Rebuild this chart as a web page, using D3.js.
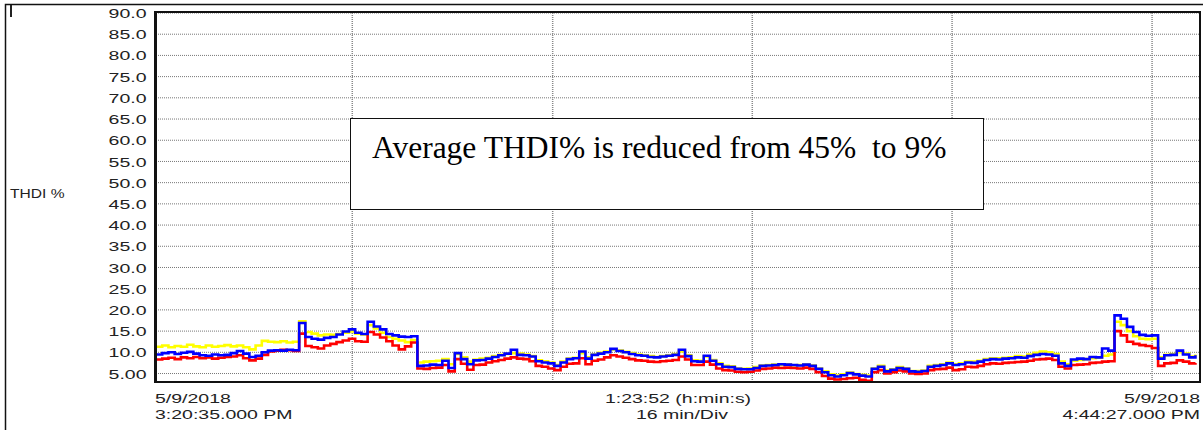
<!DOCTYPE html>
<html>
<head>
<meta charset="utf-8">
<script src="https://cdn.jsdelivr.net/npm/d3@7"></script>
<style>
  body { margin: 0; background: #fff; }
  svg { display: block; }
  text { font-family: "Liberation Sans", Arial, sans-serif; fill: #222; }
  text.note { font-family: "Liberation Serif", "Times New Roman", serif; fill: #000; }
</style>
</head>
<body>
<svg id="chart" width="1203" height="430"></svg>
<script>
// time span of the recording, one sample every 30 s
const startTime = "2018-05-09 15:20:35";
const endTime = "2018-05-09 16:44:27";
const sampleSeconds = 30;

// vertical divisions (16 min/Div)
const divTimes = ["2018-05-09 15:36:21", "2018-05-09 15:52:27", "2018-05-09 16:08:29",
                  "2018-05-09 16:24:32", "2018-05-09 16:40:36"];

const yTicks = [5, 10, 15, 20, 25, 30, 35, 40, 45, 50, 55, 60, 65, 70, 75, 80, 85, 90];
const yTickLabels = ["5.00", "10.0", "15.0", "20.0", "25.0", "30.0", "35.0", "40.0", "45.0",
                     "50.0", "55.0", "60.0", "65.0", "70.0", "75.0", "80.0", "85.0", "90.0"];

const yellowThdi = [
  11.3, 11.6, 11.2, 11.5, 11.3, 11.8, 11.4, 11.2, 11.6, 11.3, 11.5, 11.7, 11.4, 11.6, 11.2, 10.7,
  11.6, 12.7, 12.5, 12.4, 12.6, 12.3, 12.5, 17.3, 14.8, 14.4, 14.0, 14.2, 14.1, 14.3, 14.6, 14.9,
  14.4, 14.2, 16.4, 15.6, 14.6, 13.6, 13.2, 12.8, 12.4, 12.9, 7.6, 7.8, 7.9, 8.0, 8.4, 7.2,
  9.6, 8.8, 7.8, 8.3, 8.5, 8.7, 9.1, 9.4, 9.6, 9.8, 9.7, 9.5, 9.1, 8.1, 7.9, 7.6,
  7.0, 7.8, 8.5, 8.7, 9.8, 8.8, 9.5, 9.9, 10.2, 10.7, 10.4, 10.1, 9.8, 9.5, 9.3, 9.1,
  8.9, 9.1, 9.3, 9.6, 10.2, 9.3, 8.1, 8.0, 9.0, 8.2, 7.4, 6.8, 6.7, 6.2, 6.1, 6.2,
  6.5, 6.9, 7.0, 7.1, 7.0, 7.2, 6.9, 7.0, 7.1, 6.9, 6.2, 5.5, 4.8, 4.5, 4.8, 5.2,
  4.9, 4.7, 4.5, 6.2, 6.8, 5.7, 6.0, 6.5, 6.2, 5.6, 5.6, 5.7, 6.8, 7.0, 7.2, 7.6,
  7.2, 7.4, 7.8, 7.8, 8.0, 8.4, 8.6, 8.6, 8.7, 8.8, 9.1, 9.0, 9.5, 9.9, 10.2, 10.0,
  9.6, 7.8, 7.2, 8.0, 8.2, 8.4, 8.6, 8.7, 9.2, 9.5, 17.2, 16.4, 15.0, 13.8, 13.2, 13.1,
  13.2, 8.8, 9.4, 9.6, 10.0, 9.7, 9.0, 9.5
];

const redThdi = [
  8.3, 8.5, 8.7, 8.4, 8.8, 8.6, 8.9, 8.6, 8.8, 8.5, 8.7, 8.9, 9.0, 9.3, 8.6, 8.1,
  8.5, 9.4, 10.2, 10.4, 10.6, 10.5, 10.3, 14.4, 11.5, 11.2, 10.9, 11.6, 12.0, 12.4, 12.8, 13.2,
  12.6, 12.5, 14.8, 14.2, 13.5, 12.6, 11.6, 10.7, 11.4, 12.3, 6.2, 6.1, 6.3, 6.4, 7.0, 5.5,
  8.4, 7.3, 5.9, 7.0, 7.1, 7.6, 7.9, 8.2, 8.5, 8.8, 8.5, 8.4, 7.9, 6.8, 6.6, 6.2,
  5.8, 6.6, 7.3, 7.4, 8.6, 7.2, 8.0, 8.3, 8.8, 9.3, 9.0, 8.7, 8.4, 8.1, 8.0, 7.8,
  7.7, 7.9, 8.0, 8.2, 9.0, 8.3, 7.0, 7.0, 7.8, 7.1, 6.2, 5.8, 5.7, 5.4, 5.3, 5.4,
  5.7, 6.1, 6.2, 6.4, 6.3, 6.4, 6.3, 6.2, 6.4, 6.1, 5.3, 4.4, 3.8, 3.6, 3.7, 3.9,
  4.0, 3.5, 3.3, 5.3, 5.8, 5.0, 5.3, 5.7, 5.5, 5.0, 4.9, 5.0, 5.8, 6.0, 6.1, 6.4,
  5.8, 6.0, 6.6, 6.5, 6.8, 7.2, 7.4, 7.3, 7.5, 7.6, 7.7, 7.8, 8.0, 8.3, 8.4, 8.5,
  8.2, 6.6, 6.2, 7.0, 7.1, 7.2, 7.5, 7.6, 7.8, 7.9, 15.0, 14.0, 12.5, 12.0, 11.7, 11.5,
  11.0, 6.8, 7.4, 7.5, 8.1, 7.8, 7.4, 7.5
];

const blueThdi = [
  9.5, 9.8, 10.0, 9.6, 9.9, 10.1, 9.7, 9.3, 9.2, 9.5, 9.3, 9.4, 9.8, 10.3, 9.7, 8.9,
  9.2, 10.0, 10.4, 10.5, 10.4, 10.6, 10.5, 16.9, 13.6, 13.2, 13.0, 13.4, 13.6, 14.2, 14.9, 15.4,
  14.6, 14.3, 17.2, 16.1, 15.4, 14.3, 14.0, 13.7, 13.6, 13.8, 6.8, 6.9, 7.1, 7.0, 8.0, 6.3,
  9.8, 8.4, 7.2, 8.1, 8.2, 8.5, 8.9, 9.3, 9.7, 10.6, 9.4, 9.3, 9.0, 7.9, 7.6, 7.4,
  6.8, 7.6, 8.4, 8.6, 10.2, 8.5, 9.4, 9.7, 10.0, 10.8, 10.3, 10.0, 9.6, 9.3, 9.2, 8.9,
  8.8, 9.0, 9.2, 9.4, 10.6, 9.1, 7.9, 7.8, 9.2, 8.0, 7.2, 6.6, 6.5, 6.1, 6.0, 6.0,
  6.3, 6.8, 6.9, 7.0, 7.2, 7.1, 7.0, 6.9, 7.1, 6.8, 6.1, 5.3, 4.6, 4.3, 4.6, 5.1,
  4.8, 4.5, 4.3, 6.1, 6.6, 5.5, 5.9, 6.3, 6.1, 5.5, 5.4, 5.6, 6.6, 6.8, 7.0, 7.4,
  7.0, 7.2, 7.6, 7.5, 7.8, 8.2, 8.4, 8.3, 8.5, 8.6, 8.8, 8.7, 9.1, 9.4, 9.6, 9.5,
  9.2, 7.4, 6.8, 8.3, 8.5, 8.4, 8.9, 8.8, 10.9, 10.4, 18.7, 17.9, 16.0, 14.8, 14.1, 13.9,
  14.0, 8.5, 9.3, 9.4, 10.4, 9.5, 8.8, 9.3
];

const seriesColors = ["#ffff00", "#ff0000", "#0000ff"];

const parseTime = d3.timeParse("%Y-%m-%d %H:%M:%S");
const t0 = parseTime(startTime);
const t1 = parseTime(endTime);

const plot = {left: 156, right: 1200, top: 13, bottom: 382};
const stretch = 1.5; // the original lettering is drawn wide

const x = d3.scaleTime()
    .domain([t0, t1])
    .range([plot.left, plot.right]);
const y = d3.scaleLinear()
    .domain([3, 90])
    .range([plot.bottom, plot.top]);

const svg = d3.select("#chart");

// outer frame
svg.append("path")
    .attr("d", "M5.5,432V4.5H1205")
    .attr("fill", "none")
    .attr("stroke", "#111")
    .attr("stroke-width", 1.5);
svg.append("line")
    .attr("x1", 11).attr("x2", 11)
    .attr("y1", 5).attr("y2", 17)
    .attr("stroke", "#222")
    .attr("stroke-width", 2);

// grid
const grid = svg.append("g");
grid.selectAll(".hgrid")
    .data(yTicks)
    .join("line")
    .classed("hgrid", true)
    .attr("x1", plot.left).attr("x2", plot.right)
    .attr("y1", d => y(d)).attr("y2", d => y(d))
    .attr("stroke", "#777")
    .attr("stroke-width", 1)
    .attr("stroke-dasharray", "1,1");
grid.selectAll(".vgrid")
    .data(divTimes.map(parseTime))
    .join("line")
    .classed("vgrid", true)
    .attr("x1", d => x(d)).attr("x2", d => x(d))
    .attr("y1", plot.top).attr("y2", plot.bottom)
    .attr("stroke", "#888")
    .attr("stroke-width", 1.5)
    .attr("stroke-dasharray", "1,1");

// series
svg.append("clipPath")
    .attr("id", "clip")
    .append("rect")
    .attr("x", plot.left).attr("y", plot.top)
    .attr("width", plot.right - plot.left)
    .attr("height", plot.bottom - plot.top);

const line = d3.line()
    .x((d, i) => x(new Date(t0.getTime() + i * sampleSeconds * 1000)))
    .y(d => y(d))
    .curve(d3.curveStepAfter);

svg.append("g")
    .attr("clip-path", "url(#clip)")
    .selectAll("path")
    .data([yellowThdi, redThdi, blueThdi])
    .join("path")
    .attr("fill", "none")
    .attr("stroke", (d, i) => seriesColors[i])
    .attr("stroke-width", 2.6)
    .attr("stroke-linejoin", "miter")
    .attr("d", line);

// plot frame
svg.append("rect")
    .attr("x", plot.left).attr("y", plot.top - 1)
    .attr("width", plot.right - plot.left)
    .attr("height", plot.bottom - plot.top + 1)
    .attr("fill", "none")
    .attr("stroke", "#111")
    .attr("stroke-width", 2);
svg.append("line")
    .attr("x1", plot.left - 0.5).attr("x2", plot.left - 0.5)
    .attr("y1", plot.top - 2).attr("y2", plot.bottom + 1)
    .attr("stroke", "#111")
    .attr("stroke-width", 3);

// y axis labels
const yAxis = d3.axisLeft(y)
    .tickValues(yTicks)
    .tickFormat((d, i) => yTickLabels[i])
    .tickSize(0)
    .tickPadding(0);
const yAxisG = svg.append("g")
    .attr("transform", `translate(${plot.left - 9.5},0)`)
    .call(yAxis);
yAxisG.select(".domain").remove();
yAxisG.selectAll(".tick")
    .insert("rect", "text")
    .attr("x", -40).attr("y", -7)
    .attr("width", 40).attr("height", 14)
    .attr("fill", (d, i) => i === yTicks.length - 1 ? "#fff" : "none");
yAxisG.selectAll("text")
    .attr("x", 0)
    .attr("dy", "0.35em")
    .attr("font-size", 13)
    .attr("transform", `scale(${stretch},1)`);

// plain labels, drawn wide like the original
function label(txt, px, py, anchor, size, sx) {
    svg.append("text")
        .attr("transform", `translate(${px},${py}) scale(${sx || stretch},1)`)
        .attr("text-anchor", anchor)
        .attr("font-size", size || 13)
        .text(txt);
}

label("THDI %", 10, 198, "start", 12, 1.3);
label(d3.timeFormat("%-m/%-d/%Y")(t0), plot.left - 1, 402.5, "start");
label(d3.timeFormat("%-I:%M:%S.000 %p")(t0), plot.left - 1, 418.5, "start");
label(d3.timeFormat("%-m/%-d/%Y")(t1), plot.right, 402.5, "end");
label(d3.timeFormat("%-I:%M:%S.000 %p")(t1), plot.right, 418.5, "end");

const span = (t1 - t0) / 1000;
const spanText = `${Math.floor(span / 3600)}:${d3.format("02")(Math.floor(span % 3600 / 60))}:${d3.format("02")(span % 60)} (h:min:s)`;
label(spanText, (plot.left + plot.right) / 2, 402.5, "middle");
label("16 min/Div", (plot.left + plot.right) / 2 + 4, 418.5, "middle");

// annotation box
svg.append("rect")
    .attr("x", 350.5).attr("y", 118.5)
    .attr("width", 633).attr("height", 91)
    .attr("fill", "#fff")
    .attr("stroke", "#111")
    .attr("stroke-width", 1);
svg.append("text")
    .classed("note", true)
    .attr("x", 372).attr("y", 158)
    .attr("font-size", 31.5)
    .attr("xml:space", "preserve")
    .text("Average THDI% is reduced from 45%  to 9%");
</script>
</body>
</html>
